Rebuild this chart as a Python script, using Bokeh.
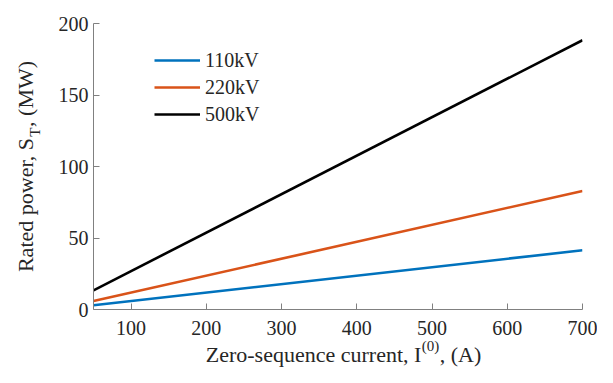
import math
from bokeh.plotting import figure
from bokeh.models import Range1d, FixedTicker, Legend, LegendItem, LinearAxis
from bokeh.embed import file_html
from bokeh.resources import INLINE

# ---- data ----
current = [50, 700]                 # zero-sequence current (A)
s_110 = [2.95, 41.4]                # rated power (MW)
s_220 = [5.9, 82.9]
s_500 = [13.4, 188.3]
series_names = ["110kV", "220kV", "500kV"]
series_colors = ["#0072BD", "#D95319", "#000000"]
x_ticks = [100, 200, 300, 400, 500, 600, 700]
y_ticks = [0, 50, 100, 150, 200]

# axis titles (with super/subscript parts)
x_title_main = "\u2002Zero-sequence current, I\u2002\u2004, (A)"
x_title_sup = "(0)"
x_sup_at = 498
y_title_main = "Rated power, S\u2002, (MW)"
y_title_sub = "T"
y_sub_at = 124

FONT = "Liberation Serif"
TXT = "#262626"
AX = "#808080"

p = figure(frame_width=489, frame_height=286,
           x_range=Range1d(50, 700), y_range=Range1d(0, 200),
           output_backend="svg", toolbar_location=None,
           min_border_left=93, min_border_right=15,
           min_border_top=23, min_border_bottom=58)
p.outline_line_color = None
p.grid.visible = False

p.xaxis.ticker = FixedTicker(ticks=x_ticks)
p.yaxis.ticker = FixedTicker(ticks=y_ticks)
for ax in (p.xaxis[0], p.yaxis[0]):
    ax.axis_line_color = AX
    ax.axis_line_width = 1
    ax.major_tick_line_color = AX
    ax.major_tick_in = 6
    ax.major_tick_out = 0
    ax.minor_tick_line_color = None
    ax.major_label_text_font = FONT
    ax.major_label_text_font_size = "20px"
    ax.major_label_text_color = TXT
p.xaxis.major_label_standoff = 11
p.yaxis.major_label_standoff = 5

renderers = []
for ys, c in zip([s_110, s_220, s_500], series_colors):
    r = p.line(current, ys, line_color=c, line_width=2.6)
    renderers.append(r)

legend = Legend(items=[LegendItem(label=n, renderers=[r]) for n, r in zip(series_names, renderers)],
                location=(61, 182))
legend.border_line_color = None
legend.background_fill_alpha = 0
legend.padding = 0
legend.margin = 0
legend.spacing = 1
legend.glyph_width = 46
legend.glyph_height = 26
legend.label_height = 26
legend.label_standoff = 5
legend.label_text_font = FONT
legend.label_text_font_size = "20px"
legend.label_text_color = TXT
p.add_layout(legend)


def title_axis(ticks, sup_text, main_title):
    a = LinearAxis(ticker=FixedTicker(ticks=ticks),
                   major_label_overrides={ticks[0]: sup_text})
    a.axis_line_color = None
    a.major_tick_line_color = None
    a.minor_tick_line_color = None
    a.major_tick_in = 0
    a.major_tick_out = 0
    a.major_label_text_font = FONT
    a.major_label_text_font_size = "15px"
    a.major_label_text_color = TXT
    a.axis_label = main_title
    a.axis_label_text_font = FONT
    a.axis_label_text_font_size = "22px"
    a.axis_label_text_font_style = "normal"
    a.axis_label_text_color = TXT
    return a

# x title: Zero-sequence current, I^(0), (A)
xa = title_axis([x_sup_at], x_title_sup, x_title_main)
xa.major_label_standoff = 0
xa.axis_label_standoff = -15
p.add_layout(xa, "below")

# y title: Rated power, S_T, (MW)
ya = title_axis([y_sub_at], y_title_sub, y_title_main)
ya.major_label_orientation = "vertical"
ya.major_label_standoff = 12
ya.axis_label_standoff = -13
p.add_layout(ya, "left")

open("out.html", "w").write(file_html(p, INLINE))
